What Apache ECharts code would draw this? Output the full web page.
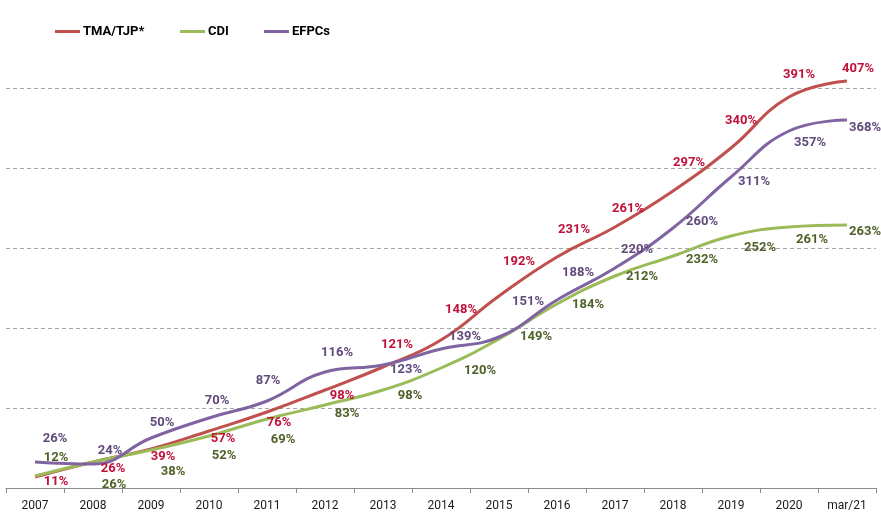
<!DOCTYPE html>
<html lang="pt">
<head>
    <meta charset="UTF-8">
    <title>TMA/TJP x CDI x EFPCs</title>
    <style>
        html, body {
            margin: 0;
            padding: 0;
            background: #fff;
        }

        #chart {
            width: 881px;
            height: 513px;
        }
    </style>
    <script src="https://cdn.jsdelivr.net/npm/echarts@6/dist/echarts.min.js"></script>
</head>
<body>
<div id="chart"></div>

<script>
    // categorias do eixo x
    var years = ['2007', '2008', '2009', '2010', '2011', '2012', '2013', '2014', '2015', '2016', '2017', '2018', '2019', '2020', 'mar/21'];
    // rentabilidade acumulada (%)
    var tmaValues = [11, 26, 39, 57, 76, 98, 121, 148, 192, 231, 261, 297, 340, 391, 407];
    var cdiValues = [12, 26, 38, 52, 69, 83, 98, 120, 149, 184, 212, 232, 252, 261, 263];
    var efpcValues = [26, 24, 50, 70, 87, 116, 123, 139, 151, 188, 220, 260, 311, 357, 368];

    // deslocamento dos rotulos em relacao a cada ponto (px)
    var tmaOffsets = [[21, 5], [20, 7], [12, 8], [14, 8], [12, 11], [17, 6], [14, -22], [20, -30],
        [20, -34], [17, -27], [13, -18], [16, -28], [10, -27], [10, -22], [11, -12]];
    var cdiOffsets = [[21, -18], [21, 23], [22, 22], [15, 20], [16, 21], [22, 9], [27, 6], [39, 3],
        [37, -2], [31, 1], [27, 1], [29, 4], [29, 12], [23, 13], [18, 7]];
    var efpcOffsets = [[20, -23], [17, -13], [11, -15], [8, -17], [1, -20], [12, -19], [23, 5], [24, -12],
        [29, -35], [21, -27], [22, -18], [29, -6], [23, 5], [21, 12], [18, 8]];

    var FONT = "Roboto, 'Liberation Sans', sans-serif";

    // monta os pontos com rotulo individual
    function buildData(values, offsets) {
        var out = [];
        for (var i = 0; i < values.length; i++) {
            out.push({
                value: values[i],
                label: {offset: offsets[i]}
            });
        }
        return out;
    }

    function makeSeries(name, values, offsets, lineColor, labelColor) {
        return {
            name: name,
            type: 'line',
            smooth: 0.45,
            clip: false,
            symbol: 'circle',
            symbolSize: 0.1,
            showSymbol: true,
            itemStyle: {color: lineColor},
            lineStyle: {color: lineColor, width: 3},
            emphasis: {disabled: true},
            label: {
                show: true,
                position: 'inside',
                align: 'center',
                verticalAlign: 'middle',
                color: labelColor,
                fontFamily: FONT,
                fontWeight: 'bold',
                fontSize: 13,
                formatter: '{c}%'
            },
            data: buildData(values, offsets)
        };
    }

    // uma legenda por serie, para posicionar cada item
    function makeLegend(name, left) {
        return {
            left: left,
            top: 20,
            icon: 'rect',
            itemWidth: 25,
            itemHeight: 3,
            itemGap: 0,
            selectedMode: false,
            textStyle: {
                color: '#000',
                fontFamily: FONT,
                fontWeight: 'bold',
                fontSize: 13,
                padding: [0, 0, 0, -2]
            },
            data: [name]
        };
    }

    var myChart = echarts.init(document.getElementById('chart'), null, {renderer: 'canvas'});

    var option = {
        animation: false,
        backgroundColor: '#fff',
        legend: [
            makeLegend('TMA/TJP*', 50),
            makeLegend('CDI', 175),
            makeLegend('EFPCs', 259)
        ],
        grid: {
            left: 6,
            right: 5,
            top: 88,
            bottom: 25,
            containLabel: false
        },
        xAxis: {
            type: 'category',
            boundaryGap: true,
            data: years,
            axisLine: {lineStyle: {color: '#8c8c8c', width: 1}},
            axisTick: {show: true, alignWithLabel: false, length: 5, lineStyle: {color: '#8c8c8c'}},
            axisLabel: {
                color: '#1a1a1a',
                fontFamily: FONT,
                fontSize: 12,
                margin: 12
            }
        },
        yAxis: {
            type: 'value',
            min: 0,
            max: 400,
            interval: 80,
            axisLine: {show: false},
            axisTick: {show: false},
            axisLabel: {show: false},
            splitLine: {
                show: true,
                lineStyle: {color: '#a6a6a6', type: [4, 3], width: 1}
            }
        },
        series: [
            makeSeries('TMA/TJP*', tmaValues, tmaOffsets, '#c0504d', '#c0103a'),
            makeSeries('CDI', cdiValues, cdiOffsets, '#9bbb59', '#4f6228'),
            makeSeries('EFPCs', efpcValues, efpcOffsets, '#8064a2', '#604a7b')
        ]
    };

    myChart.setOption(option);
</script>
</body>
</html>
